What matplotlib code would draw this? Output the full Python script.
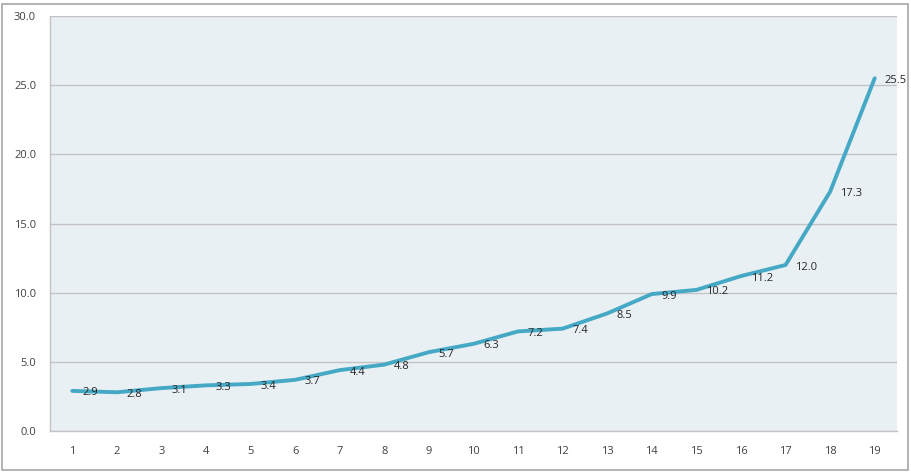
import matplotlib
matplotlib.use("Agg")
import matplotlib.pyplot as plt
from matplotlib.patches import Rectangle

categories = list(range(1, 20))
values = [2.9, 2.8, 3.1, 3.3, 3.4, 3.7, 4.4, 4.8, 5.7, 6.3, 7.2, 7.4, 8.5, 9.9, 10.2, 11.2, 12.0, 17.3, 25.5]
yticks = [0, 5, 10, 15, 20, 25, 30]

plt.rcParams['font.family'] = ['Open Sans', 'DejaVu Sans']

fig = plt.figure(figsize=(9.12, 4.74), dpi=100)
W, H = 912, 474
ax = fig.add_axes([50 / W, 1 - 431 / H, (897 - 50) / W, (431 - 16) / H])
ax.set_facecolor('#E9F0F4')

ax.plot(categories, values, color='#45A8C4', linewidth=2.8, solid_capstyle='round',
        solid_joinstyle='round', zorder=3)
for x, v in zip(categories, values):
    ax.annotate(f"{v:.1f}", (x, v), xytext=(7, -1.5), textcoords='offset points',
                fontsize=8, color='#262626', ha='left', va='center', zorder=4)

ax.set_xlim(0.5, 19.5)
ax.set_ylim(0, 30)
ax.set_yticks(yticks)
ax.set_yticklabels([f"{t:.1f}" for t in yticks])
ax.set_xticks(categories)
ax.set_xticklabels([str(c) for c in categories])
ax.grid(axis='y', color='#C3C3C3', linewidth=1.0, zorder=1)
ax.set_axisbelow(True)
for s in ['top', 'right']:
    ax.spines[s].set_visible(False)
for s in ['left', 'bottom']:
    ax.spines[s].set_color('#C3C3C3')
    ax.spines[s].set_linewidth(1.0)
ax.tick_params(axis='both', length=0, labelsize=8, labelcolor='#404040')
ax.tick_params(axis='x', pad=11)
ax.tick_params(axis='y', pad=10)

fig.patches.append(Rectangle((2 / W, 4 / H), (908 - 2) / W, (470 - 4) / H, transform=fig.transFigure,
                             fill=False, edgecolor='#A6A6A6', linewidth=1.2))

fig.savefig('out.png', dpi=100)
